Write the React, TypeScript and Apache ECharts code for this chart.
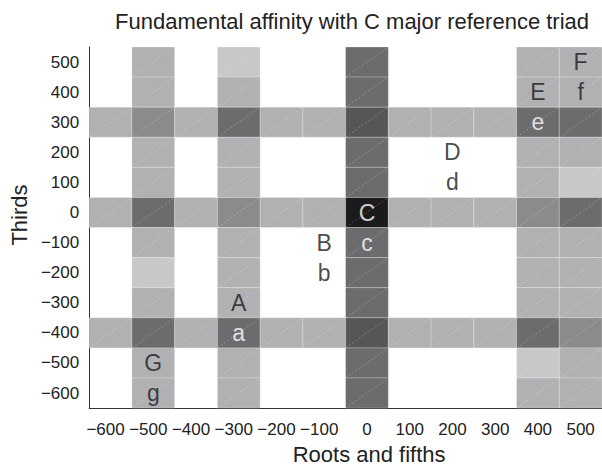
import React, { useEffect, useRef } from "react";
import * as echarts from "echarts";

// Category values (cell centres) for both axes
const rootValues = [-600, -500, -400, -300, -200, -100, 0, 100, 200, 300, 400, 500];
const thirdValues = [-600, -500, -400, -300, -200, -100, 0, 100, 200, 300, 400, 500];

// Affinity level per cell, rows listed from top (thirds = 500) to bottom (thirds = -600),
// columns from roots = -600 to 500. 0 = no affinity (white)
const row500 = [0, 2, 0, 1, 0, 0, 4, 0, 0, 0, 2, 2];
const row400 = [0, 2, 0, 2, 0, 0, 4, 0, 0, 0, 2, 2];
const row300 = [2, 3, 2, 4, 2, 2, 5, 2, 2, 2, 4, 4];
const row200 = [0, 2, 0, 2, 0, 0, 4, 0, 0, 0, 2, 2];
const row100 = [0, 2, 0, 2, 0, 0, 4, 0, 0, 0, 2, 1];
const row0 = [2, 4, 2, 3, 2, 2, 6, 2, 2, 2, 3, 4];
const rowM100 = [0, 2, 0, 2, 0, 0, 4, 0, 0, 0, 2, 2];
const rowM200 = [0, 1, 0, 2, 0, 0, 4, 0, 0, 0, 2, 2];
const rowM300 = [0, 2, 0, 2, 0, 0, 4, 0, 0, 0, 2, 2];
const rowM400 = [2, 4, 2, 4, 2, 2, 5, 2, 2, 2, 4, 3];
const rowM500 = [0, 2, 0, 2, 0, 0, 4, 0, 0, 0, 1, 2];
const rowM600 = [0, 2, 0, 2, 0, 0, 4, 0, 0, 0, 2, 2];
const levelRows = [row500, row400, row300, row200, row100, row0, rowM100, rowM200, rowM300, rowM400, rowM500, rowM600];

// Grey shade for each level
const levelPalette = ["#ffffff", "#c8c8c9", "#b1b1b3", "#8b8b8d", "#6c6c6e", "#565658", "#1b1b1b"];

// Chord labels placed in cells
const chordNames = ["C", "c", "B", "b", "A", "a", "D", "d", "E", "e", "F", "f", "G", "g"];
const chordRoots = [0, 0, -100, -100, -300, -300, 200, 200, 400, 400, 500, 500, -500, -500];
const chordThirds = [0, -100, -100, -200, -300, -400, 200, 100, 400, 300, 500, 400, -500, -600];

const fmt = (v: number) => (v < 0 ? "\u2212" + Math.abs(v) : String(v));
const FONT = "'Liberation Sans', Arial, Helvetica, sans-serif";
const TEXT = "#222222";

export default function App() {
  const ref = useRef<HTMLDivElement>(null);
  useEffect(() => {
    if (!ref.current) return;
    const chart = echarts.init(ref.current, undefined, { renderer: "svg" });

    const cells: number[][] = [];
    levelRows.forEach((row, ri) => {
      const yi = thirdValues.length - 1 - ri;
      row.forEach((lvl, xi) => {
        if (lvl > 0) cells.push([xi, yi, lvl]);
      });
    });

    const letters = chordNames.map((name, i) => {
      const xi = rootValues.indexOf(chordRoots[i]);
      const yi = thirdValues.indexOf(chordThirds[i]);
      const lvl = levelRows[thirdValues.length - 1 - yi][xi];
      return {
        value: [xi, yi],
        label: { formatter: name, color: lvl >= 4 ? "#ffffff" : "#1a1a1a" },
      };
    });

    chart.setOption({
      animation: false,
      backgroundColor: "#ffffff",
      textStyle: { fontFamily: FONT },
      title: {
        text: "Fundamental affinity with C major reference triad",
        left: 110,
        top: 5,
        textStyle: { fontFamily: FONT, fontSize: 22, fontWeight: "normal", color: TEXT },
      },
      grid: { left: 87, top: 47, width: 517, height: 367, containLabel: false },
      xAxis: {
        type: "category",
        data: rootValues.map(fmt),
        name: "Roots and fifths",
        nameLocation: "middle",
        nameGap: 33,
        nameTextStyle: { fontFamily: FONT, fontSize: 22, color: TEXT, padding: [0, 0, 0, 47] },
        axisLine: { lineStyle: { color: "#333333", width: 1 } },
        axisTick: { show: false },
        axisLabel: {
          fontFamily: FONT,
          fontSize: 17,
          color: TEXT,
          margin: 13,
          interval: 0,
          formatter: (v: string) => (v.charAt(0) === "\u2212" ? "{n|" + v + "}" : v),
          rich: { n: { fontFamily: FONT, fontSize: 17, color: TEXT, padding: [0, 10, 0, 0] } },
        },
        splitLine: { show: false },
      },
      yAxis: {
        type: "category",
        data: thirdValues.map(fmt),
        name: "Thirds",
        nameLocation: "middle",
        nameGap: 56,
        nameRotate: 90,
        nameTextStyle: { fontFamily: FONT, fontSize: 22, color: TEXT, padding: [0, 0, 0, 25] },
        axisLine: { lineStyle: { color: "#333333", width: 1 } },
        axisTick: { show: false },
        axisLabel: { fontFamily: FONT, fontSize: 17, color: TEXT, margin: 10, interval: 0 },
        splitLine: { show: false },
      },
      series: [
        {
          type: "custom",
          data: cells,
          encode: { x: 0, y: 1 },
          renderItem: (params: any, api: any) => {
            const xi = api.value(0);
            const yi = api.value(1);
            const lvl = api.value(2);
            const c = api.coord([xi, yi]);
            const s = api.size([1, 1]);
            const x0 = c[0] - s[0] / 2;
            const y0 = c[1] - s[1] / 2;
            return {
              type: "group",
              children: [
                {
                  type: "rect",
                  shape: { x: x0, y: y0, width: s[0], height: s[1] },
                  style: { fill: levelPalette[lvl], stroke: "rgba(255,255,255,0.3)", lineWidth: 0.8 },
                },
                {
                  type: "line",
                  shape: { x1: x0, y1: y0 + s[1], x2: x0 + s[0], y2: y0 },
                  style: { stroke: "rgba(255,255,255,0.4)", lineWidth: 0.6, lineDash: [2, 2] },
                },
              ],
            };
          },
          z: 1,
        },
        {
          type: "scatter",
          data: letters,
          symbolSize: 1,
          itemStyle: { color: "rgba(0,0,0,0)" },
          label: {
            show: true,
            position: "inside",
            fontFamily: FONT,
            fontSize: 23,
          },
          z: 5,
        },
      ],
    });
    return () => chart.dispose();
  }, []);
  return (
    <div
      ref={ref}
      style={{ position: "fixed", left: 0, top: 0, width: 602, height: 470 }}
    />
  );
}
